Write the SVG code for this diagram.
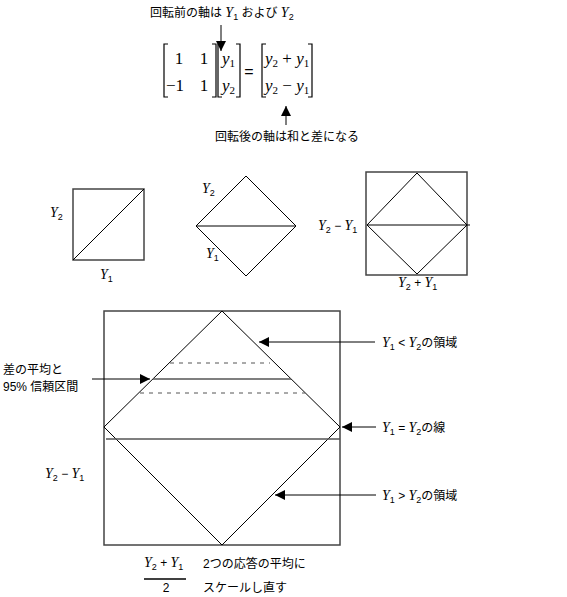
<svg xmlns="http://www.w3.org/2000/svg" width="567" height="597" viewBox="0 0 567 597">
<style>
.jp{font-family:"Liberation Sans","Noto Sans CJK JP",sans-serif;font-style:normal;font-size:12px;fill:#000}
.m{font-family:"Liberation Serif",serif;font-style:italic;font-size:14px;fill:#000}
.mx{font-family:"Liberation Serif",serif;font-size:17px;fill:#000}
.mi{font-family:"Liberation Serif",serif;font-style:italic;font-size:17px;fill:#000}
.sb{font-family:"Liberation Sans",sans-serif;font-style:normal;font-size:9px}
.op{font-family:"Liberation Sans",sans-serif;font-style:normal;font-size:12px}
.sbm{font-size:11px;font-style:normal}
.box{fill:none;stroke:#444;stroke-width:1.5}
.dia{fill:none;stroke:#000;stroke-width:1}
.hl{stroke:#555;stroke-width:1.5}
.dash{stroke:#555;stroke-width:1;stroke-dasharray:4,5}
.ln{stroke:#000;stroke-width:1;fill:none}
.br{fill:none;stroke:#000;stroke-width:1.2}
</style>
<defs>
<marker id="ah" viewBox="0 0 10 10" refX="10" refY="5" markerWidth="10" markerHeight="10" markerUnits="userSpaceOnUse" orient="auto">
<path d="M0,0 L10,5 L0,10 Z" fill="#000"/>
</marker>
</defs>

<g id="top-label">
<text class="jp" x="150" y="17">回転前の軸は <tspan class="m">Y<tspan class="sb" dy="3">1</tspan></tspan><tspan dy="-3"> および </tspan><tspan class="m">Y<tspan class="sb" dy="3">2</tspan></tspan></text>
</g>

<g id="matrix">
<path class="br" d="M168,44 H164 V97 H168 M212,44 H216 V97 H212"/>
<path class="br" d="M222,44 H218 V97 H222 M236,44 H240 V97 H236"/>
<path class="br" d="M266,44 H262 V97 H266 M308,44 H312 V97 H308"/>
<text class="mx" x="179" y="64" text-anchor="middle">1</text>
<text class="mx" x="204" y="64" text-anchor="middle">1</text>
<text class="mx" x="175" y="91" text-anchor="middle">−1</text>
<text class="mx" x="204" y="91" text-anchor="middle">1</text>
<text class="mi" x="222" y="64">y<tspan class="sbm" dy="3">1</tspan></text>
<text class="mi" x="222" y="91">y<tspan class="sbm" dy="3">2</tspan></text>
<text x="249" y="77" text-anchor="middle" font-family="Liberation Sans,sans-serif" font-size="16">=</text>
<text class="mi" x="265" y="64">y<tspan class="sbm" dy="3">2</tspan><tspan font-style="normal" dy="-3"> + </tspan>y<tspan class="sbm" dy="3">1</tspan></text>
<text class="mi" x="265" y="91">y<tspan class="sbm" dy="3">2</tspan><tspan font-style="normal" dy="-3"> − </tspan>y<tspan class="sbm" dy="3">1</tspan></text>
</g>

<g id="bottom-label">
<text class="jp" x="215" y="141">回転後の軸は和と差になる</text>
</g>

<g id="fig-square">
<rect class="box" x="73" y="189" width="71" height="71"/>
<line class="dia" x1="73" y1="260" x2="144" y2="189"/>
<text class="m" x="50" y="217">Y<tspan class="sb" dy="3">2</tspan></text>
<text class="m" x="100" y="279">Y<tspan class="sb" dy="3">1</tspan></text>
</g>

<g id="fig-diamond">
<path class="dia" d="M246,176 L296,226 L246,276 L196,226 Z M196,226 H296"/>
<text class="m" x="202" y="193">Y<tspan class="sb" dy="3">2</tspan></text>
<text class="m" x="206" y="258">Y<tspan class="sb" dy="3">1</tspan></text>
</g>

<g id="fig-rotated">
<rect class="box" x="366" y="172" width="101" height="103"/>
<path class="dia" d="M417,173 L467,225 L417,274 L367,225 Z M367,225 H470"/>
<text class="m" x="318" y="230">Y<tspan class="sb" dy="3">2</tspan><tspan class="op" dy="-3"> − </tspan>Y<tspan class="sb" dy="3">1</tspan></text>
<text class="m" x="398" y="287">Y<tspan class="sb" dy="3">2</tspan><tspan class="op" dy="-3"> + </tspan>Y<tspan class="sb" dy="3">1</tspan></text>
</g>

<g id="big-diagram">
<rect class="box" x="104" y="311" width="236" height="234"/>
<path class="dia" d="M222,311 L340,427 L222,545 L104,427 Z"/>
<line class="hl" x1="153" y1="379" x2="291" y2="379"/>
<line class="dash" x1="170" y1="363" x2="270" y2="363"/>
<line class="dash" x1="140" y1="393" x2="305" y2="393"/>
<line class="hl" x1="106" y1="439" x2="340" y2="439"/>
</g>

<g id="label-lt">
<text class="m" x="382" y="347">Y<tspan class="sb" dy="3">1</tspan><tspan class="op" dy="-3"> &lt; </tspan>Y<tspan class="sb" dy="3">2</tspan><tspan class="jp" dy="-3">の領域</tspan></text>
</g>
<g id="label-eq">
<text class="m" x="382" y="432">Y<tspan class="sb" dy="3">1</tspan><tspan class="op" dy="-3"> = </tspan>Y<tspan class="sb" dy="3">2</tspan><tspan class="jp" dy="-3">の線</tspan></text>
</g>
<g id="label-gt">
<text class="m" x="382" y="500">Y<tspan class="sb" dy="3">1</tspan><tspan class="op" dy="-3"> &gt; </tspan>Y<tspan class="sb" dy="3">2</tspan><tspan class="jp" dy="-3">の領域</tspan></text>
</g>
<g id="label-ci">
<text class="jp" x="3" y="374">差の平均と</text>
<text class="jp" x="3" y="391">95% 信頼区間</text>
</g>
<g id="label-axis">
<text class="m" x="45" y="478">Y<tspan class="sb" dy="3">2</tspan><tspan class="op" dy="-3"> − </tspan>Y<tspan class="sb" dy="3">1</tspan></text>
</g>
<g id="label-scale">
<text class="m" x="144" y="567">Y<tspan class="sb" dy="3">2</tspan><tspan class="op" dy="-3"> + </tspan>Y<tspan class="sb" dy="3">1</tspan></text>
<line x1="144" y1="579" x2="186" y2="579" stroke="#000" stroke-width="1.5"/>
<text x="166" y="592" text-anchor="middle" font-family="Liberation Sans,sans-serif" font-size="12">2</text>
<text class="jp" x="203" y="568">2つの応答の平均に</text>
<text class="jp" x="203" y="592">スケールし直す</text>
</g>

<g id="connectors">
<line class="ln" x1="221" y1="25" x2="221" y2="51" marker-end="url(#ah)"/>
<line class="ln" x1="286" y1="125" x2="286" y2="106" marker-end="url(#ah)"/>
<line class="ln" x1="375" y1="342" x2="259" y2="342" marker-end="url(#ah)"/>
<line class="ln" x1="376" y1="427" x2="342" y2="427" marker-end="url(#ah)"/>
<line class="ln" x1="376" y1="495" x2="275" y2="495" marker-end="url(#ah)"/>
<line class="ln" x1="92" y1="379" x2="150" y2="379" marker-end="url(#ah)"/>
</g>
</svg>
